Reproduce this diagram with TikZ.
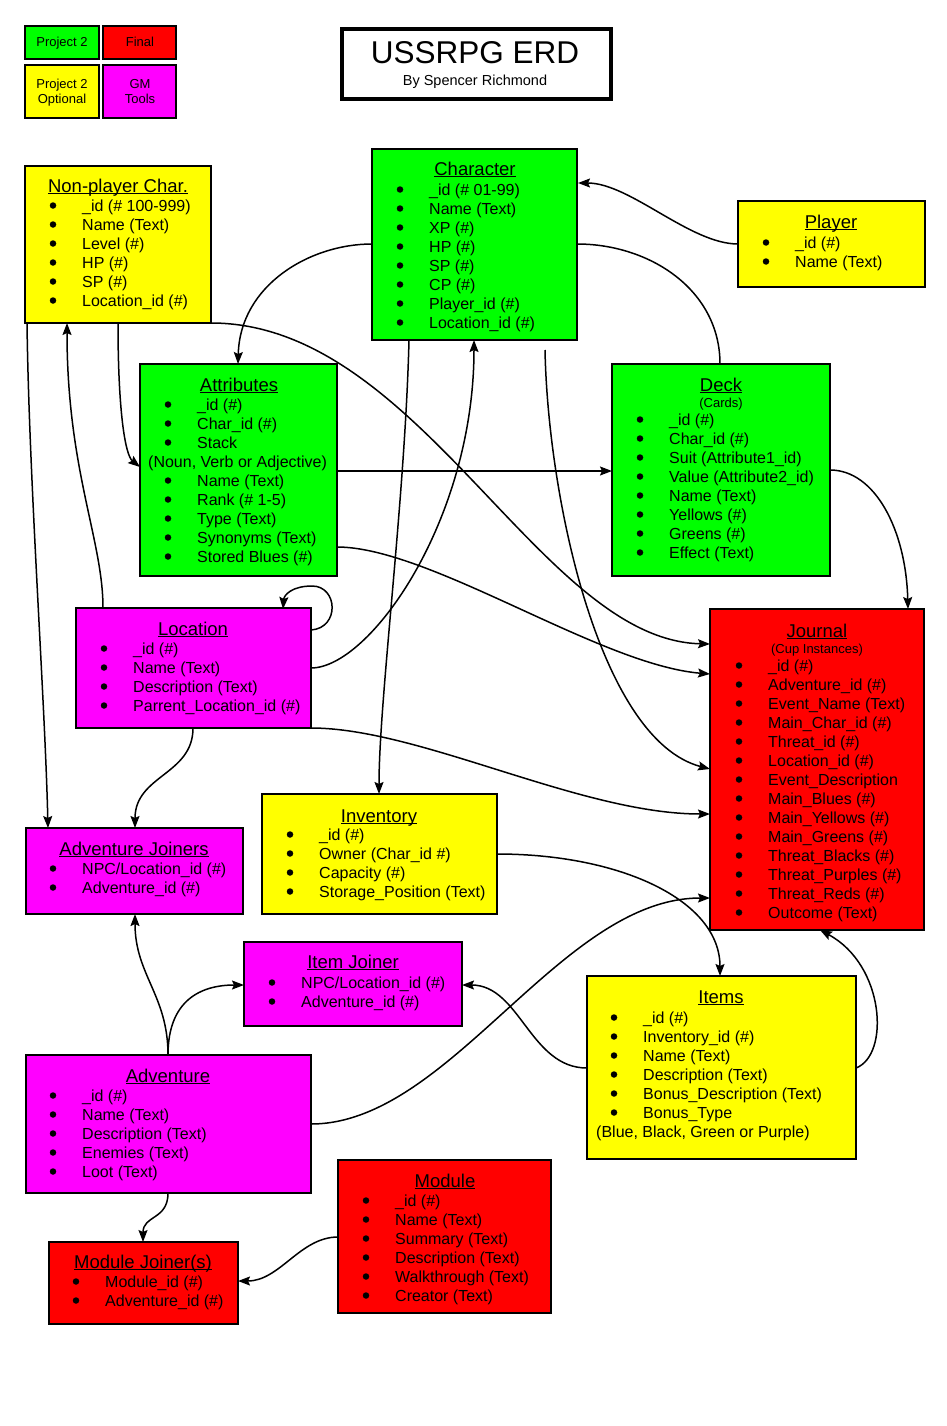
\documentclass[tikz,border=0pt]{standalone}
\usepackage{fontspec}
\setmainfont{Liberation Sans}
\usetikzlibrary{arrows.meta,calc}
\definecolor{cgreen}{RGB}{0,255,0}
\definecolor{cred}{RGB}{255,0,0}
\definecolor{cyel}{RGB}{255,255,0}
\definecolor{cmag}{RGB}{255,0,255}
\newcommand\ttlul[1]{\setbox0\hbox{#1}\rlap{\rule[-2pt]{\wd0}{1pt}}\box0}
\newcommand\fields[5]{\foreach \ftxt [count=\fidx] in {#5} {%
  \node[bul] (#1-b\fidx) at (#2,{#4+19*(\fidx-1)-5.5}) {};
  \node[fld] (#1-f\fidx) at (#3,{#4+19*(\fidx-1)}) {\ftxt};}}
\tikzset{
  ent/.style={draw=black, line width=1.6pt, anchor=north west, inner sep=0pt, outer sep=0pt},
  ttl/.style={anchor=base, inner sep=0pt, font=\fontsize{18.5}{22}\selectfont},
  fld/.style={anchor=base west, inner sep=0pt, font=\fontsize{16}{19}\selectfont},
  bul/.style={circle, fill=black, inner sep=0pt, minimum size=6.5pt},
  sml/.style={anchor=base, inner sep=0pt, font=\fontsize{13}{15}\selectfont},
  con/.style={line width=1.5pt, black},
  arr/.style={con, -{Stealth[length=12pt,width=9pt,inset=2pt]}},
}
\begin{document}
\begin{tikzpicture}[x=1pt,y=-1pt]
\useasboundingbox[fill=white] (0,0) rectangle (946,1426);
% legend
\node[ent, fill=cgreen, minimum width=74pt, minimum height=33pt] (lg1) at (25,26) {};
\node[ent, fill=cred, minimum width=73pt, minimum height=33pt] (lg2) at (103,26) {};
\node[ent, fill=cyel, minimum width=74pt, minimum height=53pt] (lg3) at (25,65) {};
\node[ent, fill=cmag, minimum width=73pt, minimum height=53pt] (lg4) at (103,65) {};
\node[sml] (lg1-t) at (62,47) {Project 2};
\node[sml] (lg2-t) at (140,47) {Final};
\node[sml] (lg3-t1) at (62,88.5) {Project 2};
\node[sml] (lg3-t2) at (62,104) {Optional};
\node[sml] (lg4-t1) at (140,88.5) {GM};
\node[sml] (lg4-t2) at (140,104) {Tools};
% title
\node[draw=black, line width=4pt, anchor=north west, inner sep=0pt, minimum width=269pt, minimum height=70pt] (tbox) at (340,27) {};
\node[anchor=base, inner sep=0pt, font=\fontsize{31.5}{36}\selectfont] (tmain) at (475,64) {USSRPG ERD};
\node[anchor=base, inner sep=0pt, font=\fontsize{14.5}{17}\selectfont] (tsub) at (475,86) {By Spencer Richmond};
% entities
\node[ent, fill=cyel, minimum width=186pt, minimum height=157pt] (npc) at (25,166) {};
\node[ttl] (npc-t) at (118,192) {\ttlul{Non-player Char.}};
\fields{npc}{53}{82}{211}{{\_id (\# 100-999)},{Name (Text)},{Level (\#)},{HP (\#)},{SP (\#)},{Location\_id (\#)}}

\node[ent, fill=cgreen, minimum width=205pt, minimum height=191pt] (chr) at (372,149) {};
\node[ttl] (chr-t) at (475,175) {\ttlul{Character}};
\fields{chr}{400}{429}{195}{{\_id (\# 01-99)},{Name (Text)},{XP (\#)},{HP (\#)},{SP (\#)},{CP (\#)},{Player\_id (\#)},{Location\_id (\#)}}

\node[ent, fill=cyel, minimum width=187pt, minimum height=86pt] (ply) at (738,201) {};
\node[ttl] (ply-t) at (831,228) {\ttlul{Player}};
\fields{ply}{766}{795}{248}{{\_id (\#)},{Name (Text)}}

\node[ent, fill=cgreen, minimum width=197pt, minimum height=212pt] (att) at (140,364) {};
\node[ttl] (att-t) at (239,391) {\ttlul{Attributes}};
\fields{atta}{168}{197}{410}{{\_id (\#)},{Char\_id (\#)},{Stack}}
\node[fld] (att-x) at (148,467) {(Noun, Verb or Adjective)};
\fields{attb}{168}{197}{486}{{Name (Text)},{Rank (\# 1-5)},{Type (Text)},{Synonyms (Text)},{Stored Blues (\#)}}

\node[ent, fill=cgreen, minimum width=218pt, minimum height=212pt] (deck) at (612,364) {};
\node[ttl] (deck-t) at (721,391) {\ttlul{Deck}};
\node[sml] (deck-s) at (721,407) {(Cards)};
\fields{deck}{640}{669}{425}{{\_id (\#)},{Char\_id (\#)},{Suit (Attribute1\_id)},{Value (Attribute2\_id)},{Name (Text)},{Yellows (\#)},{Greens (\#)},{Effect (Text)}}

\node[ent, fill=cmag, minimum width=235pt, minimum height=120pt] (loc) at (76,608) {};
\node[ttl] (loc-t) at (193,635) {\ttlul{Location}};
\fields{loc}{104}{133}{654}{{\_id (\#)},{Name (Text)},{Description (Text)},{Parrent\_Location\_id (\#)}}

\node[ent, fill=cred, minimum width=214pt, minimum height=321pt] (jou) at (710,609) {};
\node[ttl] (jou-t) at (817,637) {\ttlul{Journal}};
\node[sml] (jou-s) at (817,653) {(Cup Instances)};
\fields{jou}{739}{768}{671}{{\_id (\#)},{Adventure\_id (\#)},{Event\_Name (Text)},{Main\_Char\_id (\#)},{Threat\_id (\#)},{Location\_id (\#)},{Event\_Description},{Main\_Blues (\#)},{Main\_Yellows (\#)},{Main\_Greens (\#)},{Threat\_Blacks (\#)},{Threat\_Purples (\#)},{Threat\_Reds (\#)},{Outcome (Text)}}

\node[ent, fill=cmag, minimum width=217pt, minimum height=86pt] (advj) at (26,828) {};
\node[ttl] (advj-t) at (134,855) {\ttlul{Adventure Joiners}};
\fields{advj}{53}{82}{874}{{NPC/Location\_id (\#)},{Adventure\_id (\#)}}

\node[ent, fill=cyel, minimum width=235pt, minimum height=120pt] (inv) at (262,794) {};
\node[ttl] (inv-t) at (379,822) {\ttlul{Inventory}};
\fields{inv}{290}{319}{840}{{\_id (\#)},{Owner (Char\_id \#)},{Capacity (\#)},{Storage\_Position (Text)}}

\node[ent, fill=cmag, minimum width=218pt, minimum height=84pt] (itj) at (244,942) {};
\node[ttl] (itj-t) at (353,968) {\ttlul{Item Joiner}};
\fields{itj}{272}{301}{988}{{NPC/Location\_id (\#)},{Adventure\_id (\#)}}

\node[ent, fill=cyel, minimum width=269pt, minimum height=183pt] (itm) at (587,976) {};
\node[ttl] (itm-t) at (721,1003) {\ttlul{Items}};
\fields{itm}{614}{643}{1023}{{\_id (\#)},{Inventory\_id (\#)},{Name (Text)},{Description (Text)},{Bonus\_Description (Text)},{Bonus\_Type}}
\node[fld] (itm-x) at (596,1137) {(Blue, Black, Green or Purple)};

\node[ent, fill=cmag, minimum width=285pt, minimum height=138pt] (adv) at (26,1055) {};
\node[ttl] (adv-t) at (168,1082) {\ttlul{Adventure}};
\fields{adv}{53}{82}{1101}{{\_id (\#)},{Name (Text)},{Description (Text)},{Enemies (Text)},{Loot (Text)}}

\node[ent, fill=cred, minimum width=213pt, minimum height=153pt] (mod) at (338,1160) {};
\node[ttl] (mod-t) at (445,1187) {\ttlul{Module}};
\fields{mod}{366}{395}{1206}{{\_id (\#)},{Name (Text)},{Summary (Text)},{Description (Text)},{Walkthrough (Text)},{Creator (Text)}}

\node[ent, fill=cred, minimum width=189pt, minimum height=82pt] (modj) at (49,1242) {};
\node[ttl] (modj-t) at (143,1268) {\ttlul{Module Joiner(s)}};
\fields{modj}{76}{105}{1287}{{Module\_id (\#)},{Adventure\_id (\#)}}

% connectors
\draw[arr] ($(ply.north west)+(0,43)$) .. controls +(-48,0) and +(52,0) .. ($(chr.north west)+(206,34)$);
\draw[arr] ($(chr.north west)+(0,95)$) .. controls +(-62,0) and +(2,-79) .. ($(att.north west)+(98,0)$);
\draw[con] ($(chr.north west)+(205,95)$) .. controls +(73,0) and +(0,-74) .. ($(deck.north west)+(108,0)$);
\draw[arr] ($(chr.north west)+(37,191)$) .. controls +(-4,160) and +(0,-94) .. ($(inv.north west)+(117,0)$);
\draw[arr] ($(loc.north west)+(235,60)$) .. controls +(59,0) and +(0,180) .. ($(chr.north west)+(102,191)$);
\draw[arr] ($(chr.north west)+(173,201)$) .. controls +(3,150) and +(-110,-29) .. ($(jou.north west)+(0,160)$);
\draw[arr] ($(npc.north west)+(2,157)$) .. controls +(2,157) and +(-3,-128) .. ($(advj.north west)+(22,0)$);
\draw[arr] ($(loc.north west)+(27,0)$) .. controls +(0,-68) and +(0,147) .. ($(npc.north west)+(42,157)$);
\draw[arr] ($(npc.north west)+(93,157)$) .. controls +(0,87) and +(-15,-12) .. ($(att.north west)+(0,103)$);
\draw[arr] ($(npc.north west)+(186,157)$) .. controls +(209,0) and +(-170,-4) .. ($(jou.north west)+(0,35)$);
\draw[arr] ($(att.north west)+(197,183)$) .. controls +(93,0) and +(-110,-9) .. ($(jou.north west)+(0,65)$);
\draw[arr] ($(att.north west)+(197,107)$) -- ($(deck.north west)+(0,107)$);
\draw[arr] ($(deck.north west)+(218,106)$) .. controls +(45,0) and +(-2,-79) .. ($(jou.north west)+(198,0)$);
\draw[arr] ($(loc.north west)+(235,22)$) .. controls +(29,-2) and +(26,0) .. ($(loc.north west)+(236,-22)$) .. controls +(-20,0) and +(1,-14) .. ($(loc.north west)+(207,1)$);
\draw[arr] ($(loc.north west)+(117,120)$) .. controls +(0,47) and +(0,-53) .. ($(advj.north west)+(109,0)$);
\draw[arr] ($(loc.north west)+(235,120)$) .. controls +(109,0) and +(-130,0) .. ($(jou.north west)+(0,205)$);
\draw[arr] ($(inv.north west)+(235,60)$) .. controls +(123,0) and +(0,-76) .. ($(itm.north west)+(133,0)$);
\draw[arr] ($(adv.north west)+(285,69)$) .. controls +(139,0) and +(-150,0) .. ($(jou.north west)+(0,289)$);
\draw[arr] ($(itm.north west)+(0,92)$) .. controls +(-57,0) and +(58,0) .. ($(itj.north west)+(218,43)$);
\draw[arr] ($(itm.north west)+(269,92)$) .. controls +(34,-13) and +(65,35) .. ($(jou.north west)+(110,321)$);
\draw[arr] ($(adv.north west)+(142,0)$) .. controls +(0,-60) and +(0,61) .. ($(advj.north west)+(109,86)$);
\draw[arr] ($(adv.north west)+(142,0)$) .. controls +(0,-55) and +(-43,0) .. ($(itj.north west)+(0,43)$);
\draw[arr] ($(adv.north west)+(142,138)$) .. controls +(0,27) and +(0,-27) .. ($(modj.north west)+(94,0)$);
\draw[arr] ($(mod.north west)+(0,77)$) .. controls +(-38,0) and +(42,0) .. ($(modj.north west)+(189,39)$);
\end{tikzpicture}
\end{document}
